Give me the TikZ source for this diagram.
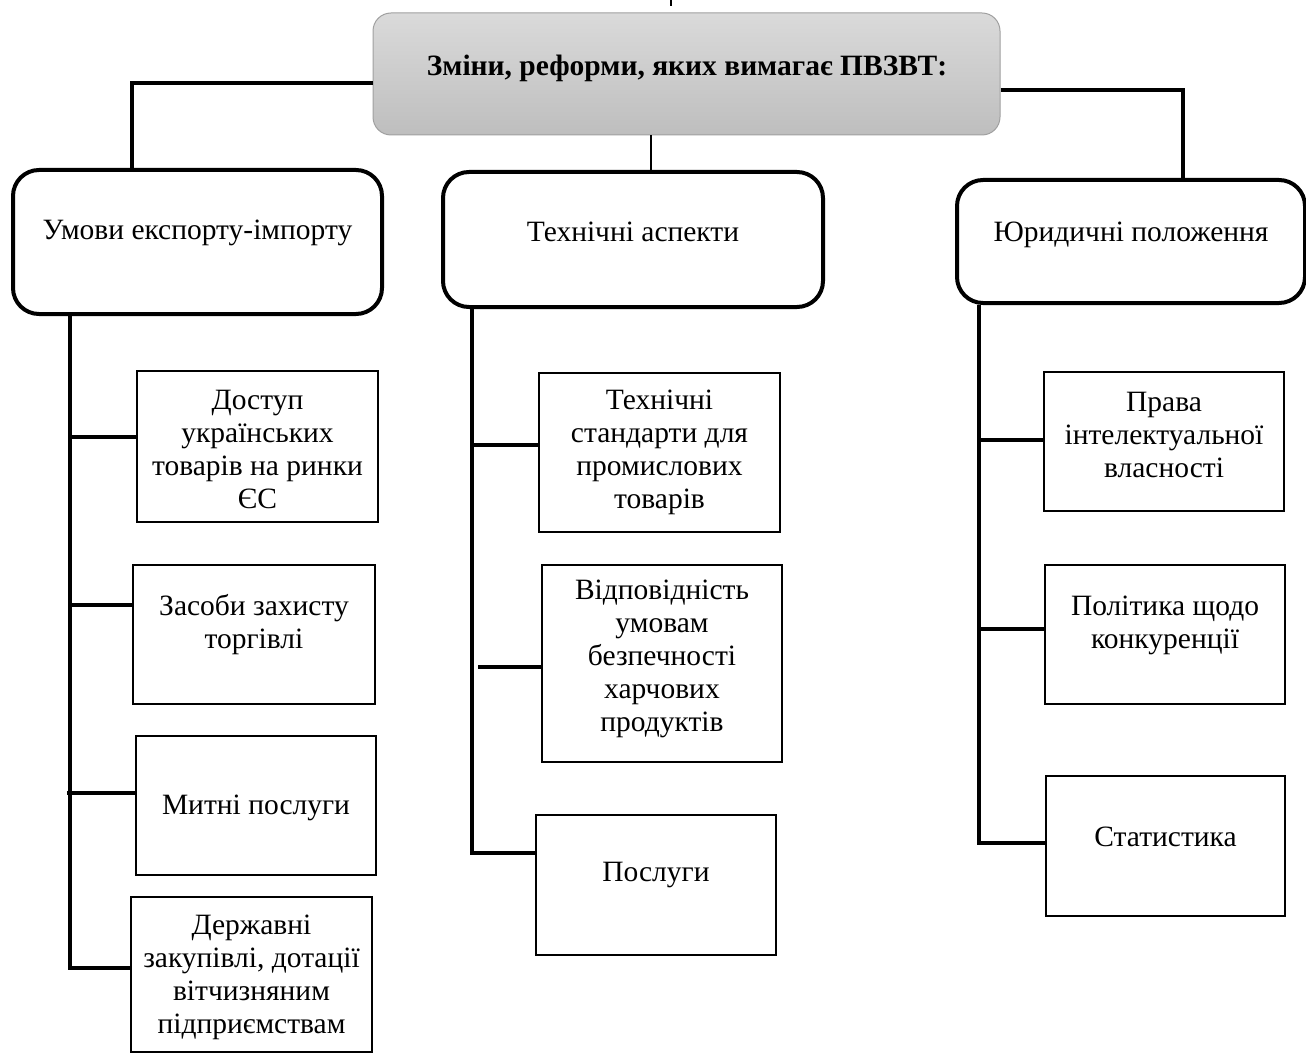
\documentclass[tikz,border=0pt]{standalone}
\usepackage{fontspec}
\setmainfont{Liberation Serif}
\begin{document}
\begin{tikzpicture}[x=1pt,y=-1pt,
  topbox/.style={draw={rgb,255:red,160;green,160;blue,160}, line width=1pt, rounded corners=18pt,
    top color={rgb,255:red,218;green,218;blue,218}, bottom color={rgb,255:red,190;green,190;blue,190},
    inner sep=0pt},
  catbox/.style={draw=black, line width=4pt, rounded corners=26pt, fill=white, inner sep=0pt},
  leafbox/.style={draw=black, line width=2.8pt, fill=white, inner sep=0pt},
  txt/.style={font=\fontsize{29.5}{33}\selectfont, align=center, inner sep=0pt},
  ttl/.style={font=\fontsize{29.5}{33}\selectfont\bfseries, align=center, inner sep=0pt},
  conn/.style={draw=black, line width=3.5pt},
  thinconn/.style={draw=black, line width=2pt}
]
\useasboundingbox (0,0) rectangle (1306,1059);

% top box
\node[topbox, minimum width=627pt, minimum height=122pt] (top) at (686.5,74) {};
\node[ttl] (topt) at (687,68) {Зміни, реформи, яких вимагає ПВЗВТ:};
\coordinate (tickA) at (671,0);
\coordinate (tickB) at (671,6);
\draw[thinconn] (tickA) -- (tickB);

% category boxes
\node[catbox, minimum width=369pt, minimum height=144pt] (L) at (197.5,242) {};
\node[txt] (Lt) at (197.5,233) {Умови експорту-імпорту};
\node[catbox, minimum width=380pt, minimum height=135pt] (C) at (633,239.5) {};
\node[txt] (Ct) at (633,232) {Технічні аспекти};
\node[catbox, minimum width=348pt, minimum height=123pt] (R) at (1131,241.5) {};
\node[txt] (Rt) at (1131,235) {Юридичні положення};

% left leaves
\node[leafbox, minimum width=241pt, minimum height=151pt] (D1) at (257.5,446.5) {};
\node[txt] (D1t) at (257.5,449) {Доступ\\українських\\товарів на ринки\\ЄС};
\node[leafbox, minimum width=242pt, minimum height=139pt] (D2) at (254,634.5) {};
\node[txt] (D2t) at (254,625) {Засоби захисту\\торгівлі};
\node[leafbox, minimum width=240pt, minimum height=139pt] (D3) at (256,805.5) {};
\node[txt] (D3t) at (256,808) {Митні послуги};
\node[leafbox, minimum width=241pt, minimum height=155pt] (D4) at (251.5,974.5) {};
\node[txt] (D4t) at (251.5,977) {Державні\\закупівлі, дотації\\вітчизняним\\підприємствам};

% centre leaves
\node[leafbox, minimum width=241pt, minimum height=159pt] (C1) at (659.5,452.5) {};
\node[txt] (C1t) at (659.5,452) {Технічні\\стандарти для\\промислових\\товарів};
\node[leafbox, minimum width=240pt, minimum height=197pt] (C2) at (662,663.5) {};
\node[txt] (C2t) at (662,659) {Відповідність\\умовам\\безпечності\\харчових\\продуктів};
\node[leafbox, minimum width=240pt, minimum height=140pt] (C3) at (656,885) {};
\node[txt] (C3t) at (656,875) {Послуги};

% right leaves
\node[leafbox, minimum width=240pt, minimum height=139pt] (R1) at (1164,441.5) {};
\node[txt] (R1t) at (1164,435) {Права\\інтелектуальної\\власності};
\node[leafbox, minimum width=240pt, minimum height=139pt] (R2) at (1165,634.5) {};
\node[txt] (R2t) at (1165,625) {Політика щодо\\конкуренції};
\node[leafbox, minimum width=239pt, minimum height=140pt] (R3) at (1165.5,846) {};
\node[txt] (R3t) at (1165.5,837) {Статистика};

% connectors from top
\draw[conn] (top.west |- 0,83) -| (L.north -| 132,0);
\draw[thinconn] (top.south -| 651,0) -- (C.north -| 651,0);
\draw[conn] (top.east |- 0,90) -| (R.north -| 1183,0);

% left spine
\draw[conn] (L.south -| 70,0) |- (D4.west |- 0,968);
\draw[conn] (70,437) -- (D1.west |- 0,437);
\draw[conn] (70,605) -- (D2.west |- 0,605);
\draw[conn] (67,793) -- (D3.west |- 0,793);

% centre spine
\draw[conn] (C.south -| 472,0) |- (C3.west |- 0,853);
\draw[conn] (472,445) -- (C1.west |- 0,445);
\draw[conn] (478,667) -- (C2.west |- 0,667);

% right spine
\draw[conn] (R.south -| 979,0) |- (R3.west |- 0,843);
\draw[conn] (979,440) -- (R1.west |- 0,440);
\draw[conn] (979,629) -- (R2.west |- 0,629);
\end{tikzpicture}
\end{document}
